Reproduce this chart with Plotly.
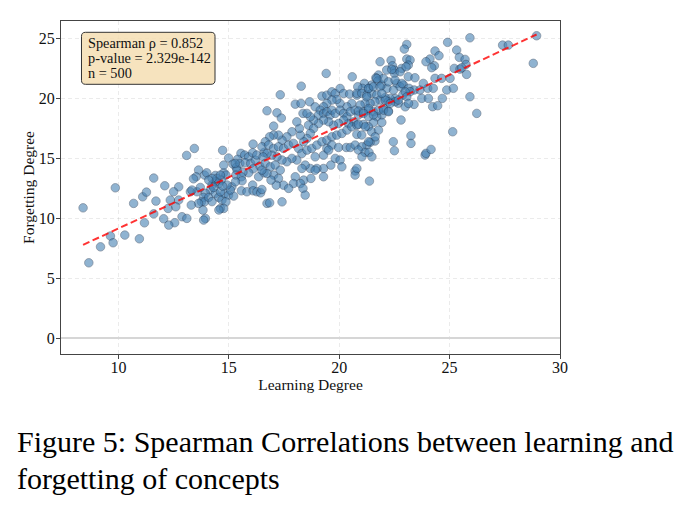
import numpy as np
import plotly.graph_objects as go

# ---------------- data ----------------
learning = [
    # x < 12.2
    8.40, 8.66, 9.19, 9.64, 9.76, 9.86, 10.29, 10.69, 10.95, 11.10, 11.27, 11.18, 11.60, 11.70, 11.60, 12.10, 12.05,
    # 12.2 - 16.6
    13.44, 13.09, 14.72, 16.10, 14.99, 15.55, 15.72, 15.90, 15.40, 15.19, 15.34, 15.50, 15.75, 15.99, 16.20, 16.40,
    16.10, 15.90, 15.64, 15.37, 15.32, 15.57, 15.60, 15.57, 15.82, 16.08, 16.10, 16.27, 16.44, 14.39, 14.77, 14.87,
    14.66, 14.54, 14.39, 14.24, 14.16, 13.94, 13.86, 13.76, 13.90, 14.09, 14.39, 14.54, 14.69, 14.81, 14.99, 15.22,
    14.87, 14.62, 14.77, 13.94, 13.86, 13.83, 13.63, 13.56, 13.71, 13.26, 13.33, 12.73, 12.50, 12.35, 12.25, 12.73,
    12.60, 13.30, 12.88, 13.10, 12.55, 12.28, 13.63, 13.52, 13.90, 14.00, 15.14, 15.30, 15.07, 14.92, 14.62, 14.46,
    14.62, 14.24, 14.09, 14.72, 14.31, 15.29, 16.08, 16.27, 16.60, 16.35, 16.60, 14.77, 13.40, 14.24, 14.55,
    # 16.4 - 20.9
    19.41, 20.59, 18.28, 17.33, 16.73, 17.18, 17.38, 17.03, 18.01, 18.27, 18.36, 18.66, 18.91, 19.22, 19.44, 19.67,
    19.82, 20.04, 20.20, 20.47, 20.80, 20.57, 20.35, 20.04, 19.89, 19.67, 19.44, 19.29, 19.14, 19.06, 19.29, 19.44,
    19.59, 19.67, 19.82, 20.04, 20.20, 20.35, 20.50, 20.72, 20.87, 20.65, 20.42, 20.20, 19.97, 19.74, 19.52, 19.29,
    19.06, 18.84, 18.69, 18.54, 18.61, 18.84, 18.69, 18.54, 18.39, 18.24, 18.20, 18.08, 17.86, 17.63, 17.41, 17.25,
    17.03, 16.85, 16.65, 16.50, 16.80, 17.03, 17.25, 17.48, 17.71, 17.93, 18.16, 18.31, 18.54, 18.76, 18.99, 19.22,
    19.44, 19.67, 19.89, 20.12, 20.35, 20.57, 20.80, 19.44, 19.67, 19.97, 20.32, 20.50, 20.72, 18.91, 19.29, 19.52,
    19.82, 20.04, 20.12, 19.62, 19.29, 18.99, 18.69, 18.46, 18.31, 18.08, 17.86, 17.63, 17.41, 17.18, 16.95, 16.73,
    16.55, 16.65, 16.88, 17.10, 17.33, 17.03, 17.25, 17.48, 17.15, 16.91, 16.73, 16.50, 18.01, 18.39, 18.72, 17.93,
    18.24, 18.36, 18.46, 17.71, 17.41, 16.73, 16.85, 16.50, 19.29, 18.91,
    # 20.7 - 25.3
    24.91, 23.06, 22.95, 24.34, 24.52, 21.85, 22.35, 23.06, 23.21, 24.11, 23.93, 24.31, 24.19, 22.41, 22.15, 22.50,
    22.83, 23.13, 23.13, 23.43, 22.50, 22.61, 22.91, 23.16, 23.40, 23.21, 23.66, 24.01, 24.26, 23.81, 24.34, 24.64,
    25.02, 24.87, 25.17, 25.21, 23.74, 24.04, 24.67, 24.23, 24.46, 23.39, 22.88, 22.53, 22.30, 22.68, 22.80, 23.25,
    23.25, 22.45, 22.50, 23.89, 23.93, 24.16, 25.14, 21.37, 20.72, 20.72,
    21.78, 21.66, 21.75, 21.93, 21.47, 21.32, 21.14, 21.05, 20.84, 20.80, 21.02, 21.25, 21.47, 21.70, 21.85, 22.08,
    22.23, 21.62, 21.40, 21.17, 20.95, 20.87, 21.10, 21.32, 21.55, 22.00, 22.23, 21.93, 21.70, 21.55, 21.32, 21.10,
    20.87, 21.47, 21.78, 21.93, 21.62, 21.40, 21.25, 21.02, 20.87, 21.17, 21.35, 20.80, 21.02,
    22.16, 22.46, 22.76, 22.00, 22.08, 22.53, 21.78, 22.01, 22.99, 21.48, 21.03,
    22.38, 22.76, 23.03, 21.70, 22.23, 22.53, 22.84, 21.33, 21.55, 21.85, 22.99, 21.25, 21.93, 22.31, 22.68, 23.06,
    21.33, 22.23, 23.14, 21.10, 21.33, 21.55, 21.18, 21.63, 21.33, 20.80,
    # > 25.3
    28.94, 28.79, 27.40, 27.66, 25.92, 25.32, 25.44, 25.70, 25.74, 25.47, 25.55, 25.77, 25.92, 26.23,
]

forgetting = [
    10.88, 6.30, 7.63, 8.53, 7.97, 12.55, 8.61, 11.25, 8.30, 11.80, 12.19, 9.63, 13.36, 11.44, 10.38, 12.72, 9.97,
    15.83, 15.25, 15.67, 16.19, 15.03, 15.42, 15.28, 15.13, 14.92, 14.53, 14.25, 14.58, 14.63, 14.58, 14.86, 14.36,
    14.13, 13.80, 13.86, 14.03, 13.61, 13.47, 13.13, 12.30, 12.22, 12.78, 12.30, 12.22, 12.13, 13.58, 13.80, 13.61,
    13.19, 12.91, 13.05, 12.78, 12.36, 12.08, 11.75, 11.38, 11.38, 11.75, 12.08, 11.75, 11.53, 12.08, 11.94, 11.86,
    11.38, 10.83, 10.83, 10.00, 9.86, 10.69, 11.25, 12.22, 12.58, 12.22, 12.36, 12.63, 12.22, 11.53, 10.83, 11.53,
    10.97, 11.11, 10.14, 10.00, 9.64, 9.44, 14.03, 13.47, 13.61, 13.80, 12.63, 13.05, 12.36, 12.78, 12.22, 13.33,
    13.61, 13.33, 13.19, 12.69, 12.58, 14.58, 15.47, 15.28, 15.50, 13.47, 13.80, 14.44, 13.30, 11.40, 10.70,
    22.08, 21.80, 21.02, 20.30, 18.97, 18.80, 18.36, 17.69, 19.52, 19.58, 18.75, 19.72, 19.30, 20.19, 20.27, 20.55,
    20.41, 20.83, 20.41, 20.36, 20.27, 19.58, 19.30, 19.58, 19.91, 19.86, 19.58, 19.30, 19.02, 18.61, 18.75, 18.89,
    18.61, 19.02, 18.75, 19.02, 18.75, 18.47, 18.89, 19.02, 18.61, 18.05, 17.91, 18.19, 17.91, 17.77, 18.05, 18.19,
    17.91, 18.19, 18.47, 18.75, 17.77, 17.50, 17.08, 16.66, 16.39, 16.94, 17.50, 18.05, 17.22, 16.80, 16.52, 16.94,
    16.94, 16.80, 16.39, 15.97, 16.11, 15.83, 15.97, 15.83, 16.11, 16.25, 15.83, 15.41, 15.69, 15.83, 16.11, 16.39,
    16.52, 16.80, 16.94, 17.08, 17.36, 17.63, 17.77, 15.83, 16.11, 15.91, 15.91, 15.91, 16.11, 15.13, 15.27, 15.69,
    15.00, 14.86, 14.30, 14.44, 14.16, 14.16, 14.16, 14.44, 14.16, 14.86, 15.00, 14.72, 14.86, 15.13, 15.27, 15.41,
    15.13, 14.58, 14.30, 14.44, 14.02, 13.61, 13.33, 12.77, 12.77, 13.19, 13.75, 14.02, 13.47, 13.19, 13.33, 12.91,
    12.91, 12.50, 11.94, 12.50, 11.38, 11.25, 11.30, 12.41, 13.47, 14.02,
    24.67, 24.50, 24.11, 23.95, 23.56, 23.06, 23.17, 23.28, 23.20, 23.28, 23.06, 22.72, 22.56, 22.72, 22.36, 22.36,
    22.50, 22.78, 21.81, 21.72, 22.09, 21.25, 21.11, 20.84, 20.70, 20.56, 20.70, 20.84, 20.84, 21.25, 21.67, 21.67,
    21.67, 20.70, 20.84, 22.50, 20.00, 20.00, 20.00, 19.31, 19.39, 19.50, 20.28, 20.00, 20.00, 19.59, 18.20, 16.89,
    16.25, 16.39, 15.64, 15.28, 15.42, 15.75, 17.22, 13.11, 13.95, 13.61,
    21.95, 21.72, 21.45, 21.11, 21.11, 20.84, 21.25, 20.84, 20.97, 20.42, 20.42, 20.28, 20.42, 20.28, 19.86, 20.06,
    19.72, 19.72, 19.59, 19.59, 19.45, 18.95, 18.89, 19.03, 18.89, 19.17, 18.95, 18.61, 18.47, 18.00, 17.64, 17.84,
    17.84, 17.22, 17.36, 18.00, 16.45, 16.34, 16.11, 15.97, 15.70, 15.50, 15.50, 17.00, 16.95,
    20.83, 20.69, 20.97, 21.66, 19.86, 19.72, 19.02, 19.02, 19.30, 15.13, 15.13,
    22.41, 22.22, 22.63, 21.66, 21.38, 21.52, 21.25, 20.83, 20.97, 20.97, 20.55, 20.13, 20.41, 19.58, 19.86, 20.13,
    19.16, 18.89, 19.58, 18.75, 18.47, 18.61, 17.63, 16.80, 16.39, 14.16,
    25.22, 22.92, 24.44, 24.44, 25.05, 24.03, 23.42, 23.25, 22.83, 22.44, 22.55, 22.00, 20.14, 18.75,
]

stats_lines = ["Spearman \u03c1 = 0.852", "p-value = 2.329e-142", "n = 500"]
x_ticks = [10, 15, 20, 25, 30]
y_ticks = [0, 5, 10, 15, 20, 25]
x_title = "Learning Degree"
y_title = "Forgetting Degree"
caption_lines = ["Figure 5: Spearman Correlations between learning and", "forgetting of concepts"]

# ---------------- figure ----------------
W, H = 686, 510
ML, MR, MT, MB = 61, 126, 21, 156
PW, PH = W - ML - MR, H - MT - MB


def px2paper(X, Y):
    return (X - ML) / PW, (H - MB - Y) / PH


x = np.array(learning)
y = np.array(forgetting)
slope, intercept = np.polyfit(x, y, 1)
xfit = np.array([x.min(), x.max()])
yfit = slope * xfit + intercept

serif = "Liberation Serif, Times New Roman, serif"

fig = go.Figure()
fig.add_trace(go.Scatter(
    x=x, y=y, mode="markers", showlegend=False, hoverinfo="skip",
    marker=dict(size=8.5, color="#4682b4", opacity=0.6,
                line=dict(color="#1f3550", width=0.7)),
))
fig.add_trace(go.Scatter(
    x=xfit, y=yfit, mode="lines", showlegend=False, hoverinfo="skip",
    line=dict(color="rgba(255,0,0,0.8)", width=2, dash="7px,3.5px"),
))

axis_common = dict(
    ticks="outside", ticklen=4, tickwidth=1, tickcolor="#444",
    showline=True, linecolor="#444", linewidth=1.2, mirror=True,
    showgrid=True, gridcolor="rgba(0,0,0,0.08)", griddash="4px,3px", gridwidth=0.8,
    tickfont=dict(family=serif, size=16, color="#111"),
    automargin=False,
)
fig.update_xaxes(range=[7.4, 30.0], tickvals=x_ticks, zeroline=False, ticklabelstandoff=-5,
                 title=dict(text=x_title, font=dict(family=serif, size=15.5, color="#111"), standoff=0),
                 **axis_common)
fig.update_yaxes(range=[-1.3, 26.45], tickvals=y_ticks, zeroline=True, ticklabelstandoff=-2,
                 zerolinecolor="#d6d6d6", zerolinewidth=1.8,
                 title=dict(text=y_title, font=dict(family=serif, size=15.5, color="#111"), standoff=0),
                 **axis_common)

# stats box (rounded rectangle)
bx0, by0, bx1, by1, r = 81.5, 32.3, 215.0, 84.3, 4.0
pts = {
    "a": px2paper(bx0 + r, by0), "b": px2paper(bx1 - r, by0), "c": px2paper(bx1, by0),
    "d": px2paper(bx1, by0 + r), "e": px2paper(bx1, by1 - r), "f": px2paper(bx1, by1),
    "g": px2paper(bx1 - r, by1), "h": px2paper(bx0 + r, by1), "i": px2paper(bx0, by1),
    "j": px2paper(bx0, by1 - r), "k": px2paper(bx0, by0 + r), "l": px2paper(bx0, by0),
}
P = lambda k: f"{pts[k][0]:.5f},{pts[k][1]:.5f}"
path = (f"M {P('a')} L {P('b')} Q {P('c')} {P('d')} L {P('e')} Q {P('f')} {P('g')} "
        f"L {P('h')} Q {P('i')} {P('j')} L {P('k')} Q {P('l')} {P('a')} Z")
fig.add_shape(type="path", path=path, xref="paper", yref="paper",
              fillcolor="rgba(245,222,179,0.85)", line=dict(color="#333", width=1), layer="above")

line_y = [42.7, 58.1, 73.3]
for txt, Y in zip(stats_lines, line_y):
    ax_, ay_ = px2paper(86, Y)
    fig.add_annotation(x=ax_, y=ay_, xref="paper", yref="paper", text=txt, showarrow=False,
                       xanchor="left", yanchor="middle",
                       font=dict(family=serif, size=14.3, color="#111"))

# caption
for txt, Y in zip(caption_lines, [441, 479]):
    cx, cy = px2paper(15, Y)
    fig.add_annotation(x=cx, y=cy, xref="paper", yref="paper", text=txt, showarrow=False,
                       xanchor="left", yanchor="middle",
                       font=dict(family=serif, size=30, color="#000"))

fig.update_layout(
    width=W, height=H, margin=dict(l=ML, r=MR, t=MT, b=MB, autoexpand=False),
    paper_bgcolor="white", plot_bgcolor="white",
    font=dict(family=serif, size=15.5, color="#111"),
)

fig.write_html("out.html")
